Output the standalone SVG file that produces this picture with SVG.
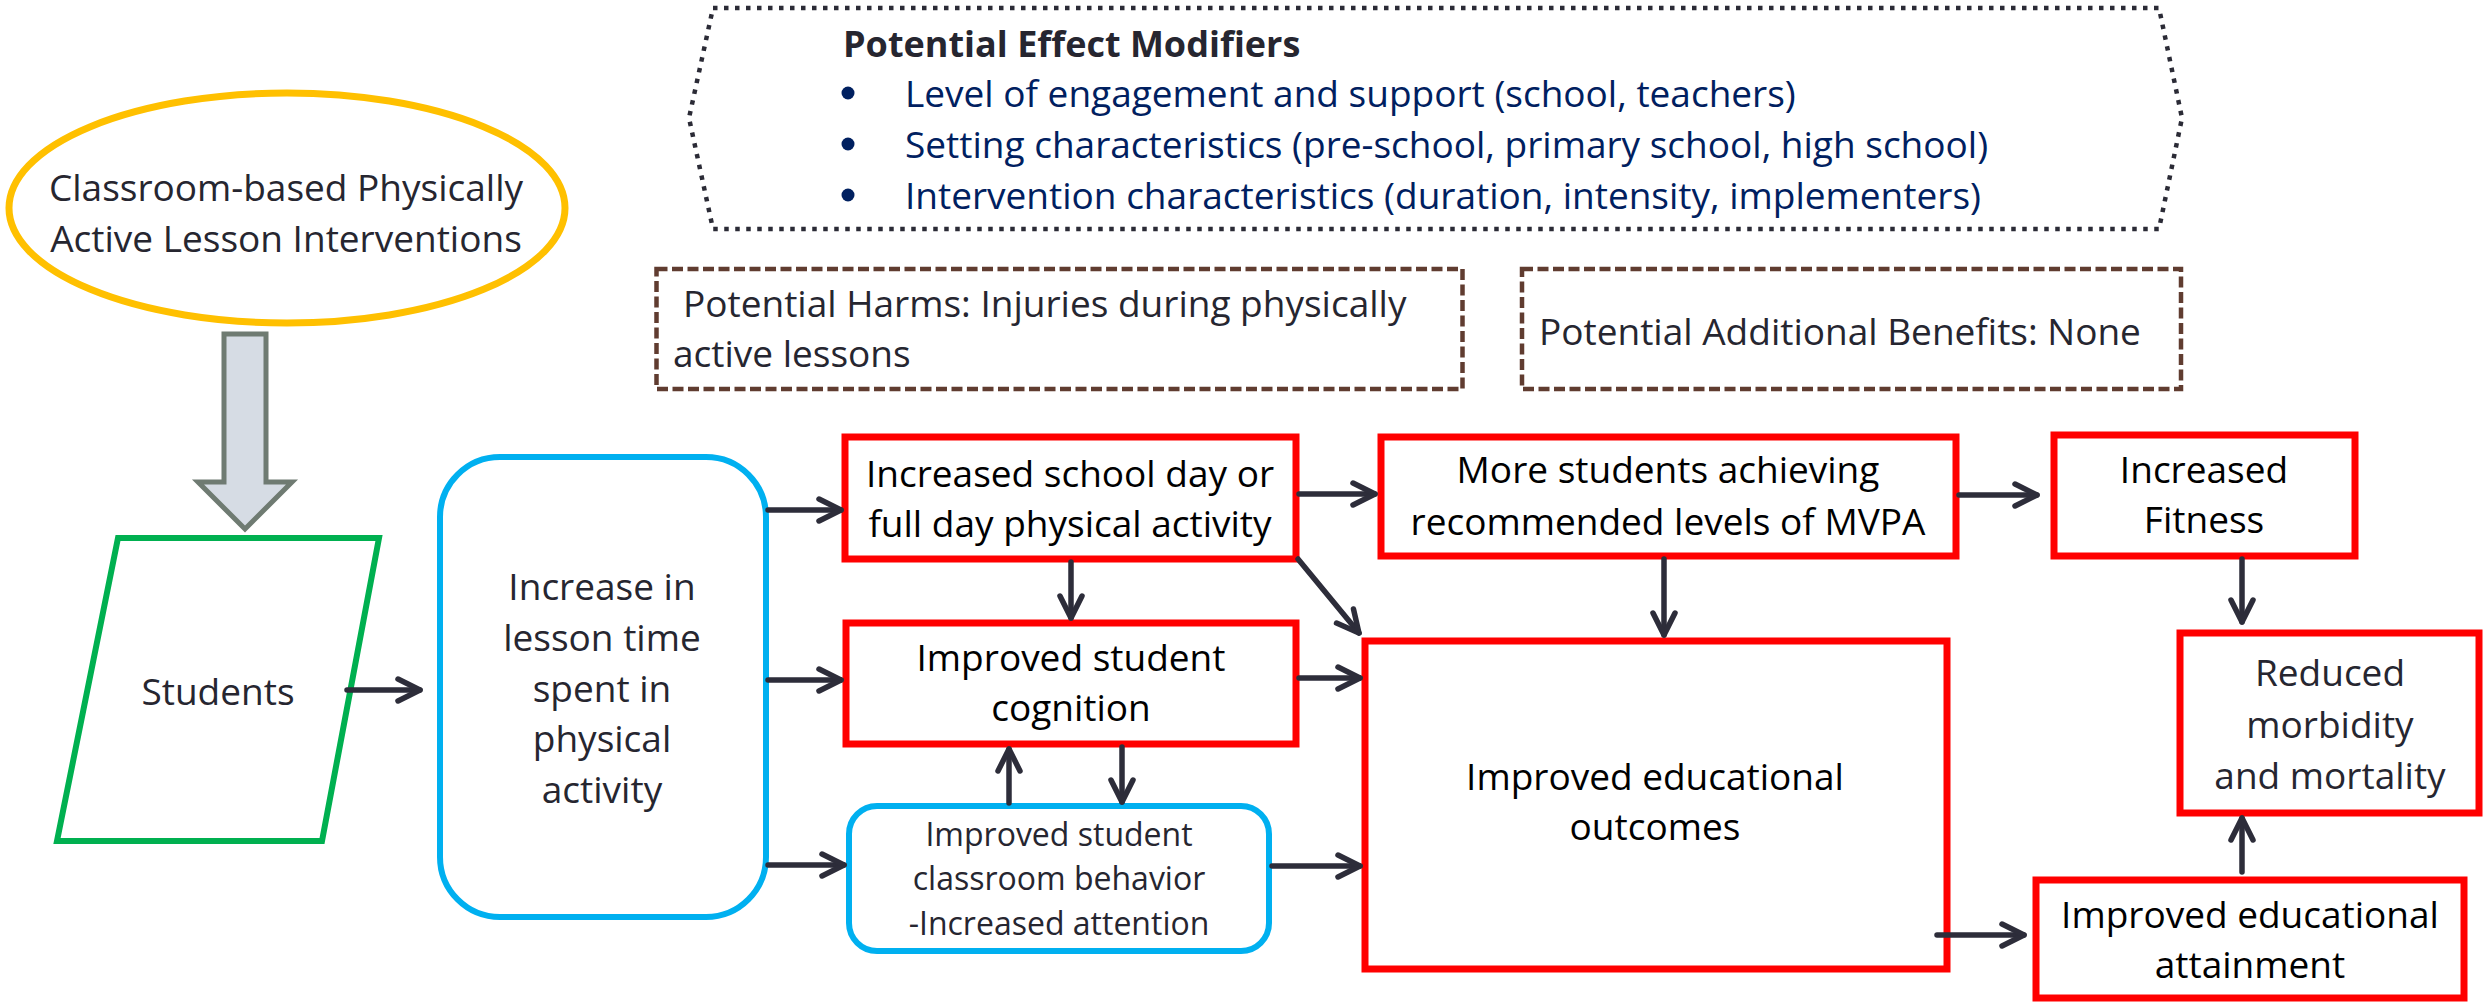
<svg xmlns="http://www.w3.org/2000/svg" width="2483" height="1003" viewBox="0 0 2483 1003">
<defs>
<style>
text{font-family:"Open Sans","Liberation Sans",sans-serif;font-size:37px;fill:#262630}
.c{text-anchor:middle}
.k{fill:#000}
.b{fill:#002060}
.t{font-weight:bold;font-size:36px}
.sm{font-size:32px}
.red{fill:#fff;stroke:#FF0000;stroke-width:7}
.blue{fill:#fff;stroke:#00B0F0;stroke-width:6}
.dash{fill:#fff;stroke:#603C30;stroke-width:4.5;stroke-dasharray:11 4.5}
.conn line{stroke:#2D2D3A;stroke-width:5.5;stroke-linecap:round;marker-end:url(#ah)}
</style>
<marker id="ah" markerUnits="userSpaceOnUse" viewBox="-30 -20 40 40" markerWidth="40" markerHeight="40" refX="0" refY="0" orient="auto" overflow="visible">
<path d="M -22 -11 L 0 0 L -22 11" fill="none" stroke="#2D2D3A" stroke-width="5.5" stroke-linecap="round" stroke-linejoin="round"/>
</marker>
</defs>
<rect width="2483" height="1003" fill="#fff"/>

<g id="modifiers">
<polygon points="713,8 2159,8 2182,118 2159,229 713,229 689,118" fill="#fff" stroke="#2B2B36" stroke-width="4.5" stroke-dasharray="4.5 6.5"/>
<text class="t" x="843" y="57">Potential Effect Modifiers</text>
<circle cx="848" cy="93" r="6.5" fill="#002060"/>
<circle cx="848" cy="144" r="6.5" fill="#002060"/>
<circle cx="848" cy="195" r="6.5" fill="#002060"/>
<text class="b" x="905" y="107">Level of engagement and support (school, teachers)</text>
<text class="b" x="905" y="158">Setting characteristics (pre-school, primary school, high school)</text>
<text class="b" x="905" y="209">Intervention characteristics (duration, intensity, implementers)</text>
</g>

<g id="harms">
<rect class="dash" x="656.5" y="269" width="806" height="120"/>
<text x="683" y="317">Potential Harms: Injuries during physically</text>
<text x="673" y="367">active lessons</text>
</g>

<g id="benefits">
<rect class="dash" x="1522" y="269" width="659" height="120"/>
<text x="1539" y="345">Potential Additional Benefits: None</text>
</g>

<g id="intervention">
<ellipse cx="287" cy="208" rx="278" ry="115" fill="#fff" stroke="#FFC000" stroke-width="7"/>
<text class="c" x="286" y="201">Classroom-based Physically</text>
<text class="c" x="286" y="252">Active Lesson Interventions</text>
</g>

<g id="block-arrow">
<polygon points="224,334 266,334 266,482 292,482 245,529 198,482 224,482" fill="#D6DCE4" stroke="#6F7B72" stroke-width="5"/>
</g>

<g id="students">
<polygon points="118,538 379,538 322,841 57,841" fill="#fff" stroke="#00B050" stroke-width="6"/>
<text class="c" x="218" y="705">Students</text>
</g>

<g id="lesson-time">
<rect class="blue" x="440" y="457" width="326" height="460" rx="60" ry="60"/>
<text class="c" x="602" y="600">Increase in</text>
<text class="c" x="602" y="651">lesson time</text>
<text class="c" x="602" y="702">spent in</text>
<text class="c" x="602" y="752">physical</text>
<text class="c" x="602" y="803">activity</text>
</g>

<g id="school-day-pa">
<rect class="red" x="845" y="437" width="451" height="122"/>
<text class="c k" x="1070" y="487">Increased school day or</text>
<text class="c k" x="1070" y="537">full day physical activity</text>
</g>

<g id="cognition">
<rect class="red" x="846" y="623" width="450" height="121"/>
<text class="c k" x="1071" y="671">Improved student</text>
<text class="c k" x="1071" y="721">cognition</text>
</g>

<g id="behavior">
<rect class="blue" x="849" y="806" width="420" height="145" rx="28" ry="28"/>
<text class="c sm" x="1059" y="846">Improved student</text>
<text class="c sm" x="1059" y="890">classroom behavior</text>
<text class="c sm" x="1059" y="935">-Increased attention</text>
</g>

<g id="mvpa">
<rect class="red" x="1381" y="437" width="575" height="119"/>
<text class="c k" x="1668" y="483">More students achieving</text>
<text class="c k" x="1668" y="535">recommended levels of MVPA</text>
</g>

<g id="fitness">
<rect class="red" x="2054" y="435" width="301" height="121"/>
<text class="c k" x="2204" y="483">Increased</text>
<text class="c k" x="2204" y="533">Fitness</text>
</g>

<g id="outcomes">
<rect class="red" x="1365" y="641" width="582" height="328"/>
<text class="c k" x="1655" y="790">Improved educational</text>
<text class="c k" x="1655" y="840">outcomes</text>
</g>

<g id="morbidity">
<rect class="red" x="2180" y="633" width="299" height="180"/>
<text class="c" x="2330" y="686">Reduced</text>
<text class="c" x="2330" y="738">morbidity</text>
<text class="c" x="2330" y="789">and mortality</text>
</g>

<g id="attainment">
<rect class="red" x="2036" y="880" width="428" height="118"/>
<text class="c k" x="2250" y="928">Improved educational</text>
<text class="c k" x="2250" y="978">attainment</text>
</g>

<g id="connectors" class="conn">
<line x1="347" y1="690" x2="420" y2="690"/>
<line x1="768" y1="510" x2="841" y2="510"/>
<line x1="768" y1="680" x2="841" y2="680"/>
<line x1="768" y1="865" x2="844" y2="865"/>
<line x1="1299" y1="494" x2="1375" y2="494"/>
<line x1="1071" y1="562" x2="1071" y2="618"/>
<line x1="1298" y1="559" x2="1359" y2="633"/>
<line x1="1299" y1="678" x2="1360" y2="678"/>
<line x1="1272" y1="866" x2="1360" y2="866"/>
<line x1="1009" y1="803" x2="1009" y2="749"/>
<line x1="1122" y1="747" x2="1122" y2="802"/>
<line x1="1664" y1="559" x2="1664" y2="635"/>
<line x1="1959" y1="495" x2="2037" y2="495"/>
<line x1="2242" y1="559" x2="2242" y2="622"/>
<line x1="1937" y1="935" x2="2024" y2="935"/>
<line x1="2242" y1="872" x2="2242" y2="818"/>
</g>
</svg>
